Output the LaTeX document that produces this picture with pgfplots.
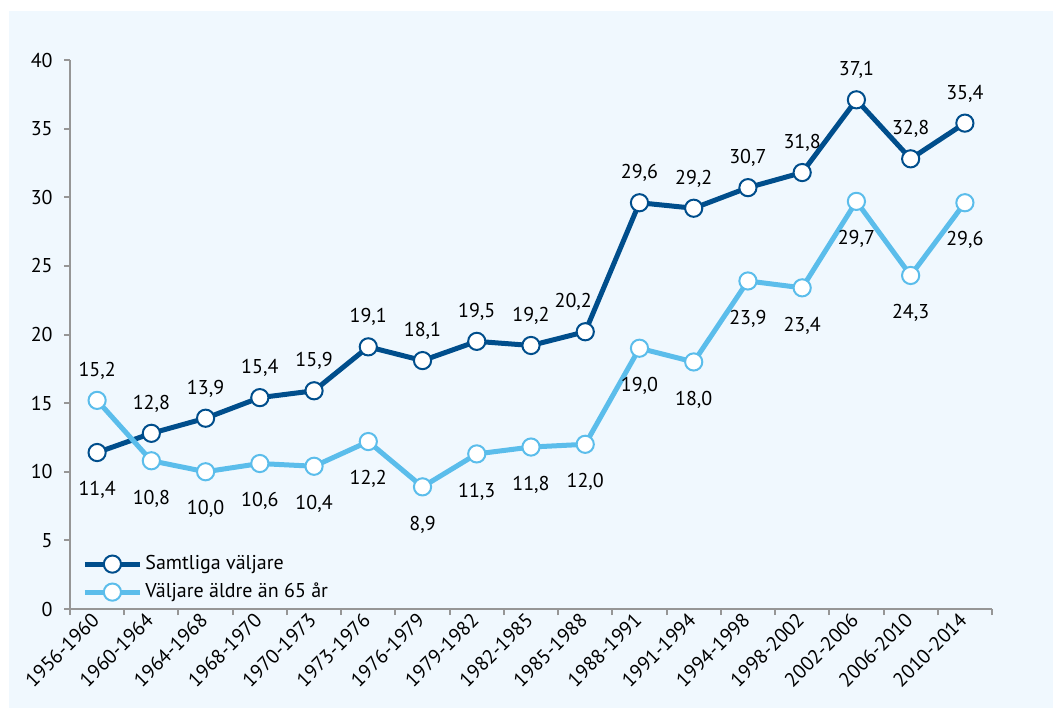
\documentclass[border=0pt]{standalone}
\usepackage{pgfplots}
\pgfplotsset{compat=1.18}
\usepackage{pgfplotstable}
\usepackage{fontspec}
\setmainfont{PT Sans}
\definecolor{darkblue}{RGB}{0,78,140}
\definecolor{lightblue}{RGB}{91,189,235}
\definecolor{bgblue}{RGB}{240,248,254}
\definecolor{axgray}{RGB}{150,150,150}

\pgfplotstableread{
x y lbl
0 11.4 11,4
1 12.8 12,8
2 13.9 13,9
3 15.4 15,4
4 15.9 15,9
5 19.1 19,1
6 18.1 18,1
7 19.5 19,5
8 19.2 19,2
9 20.2 20,2
10 29.6 29,6
11 29.2 29,2
12 30.7 30,7
13 31.8 31,8
14 37.1 37,1
15 32.8 32,8
16 35.4 35,4
}\samtliga

\pgfplotstableread{
x y lbl
0 15.2 15,2
1 10.8 10,8
2 10.0 10,0
3 10.6 10,6
4 10.4 10,4
5 12.2 12,2
6 8.9 8,9
7 11.3 11,3
8 11.8 11,8
9 12.0 12,0
10 19.0 19,0
11 18.0 18,0
12 23.9 23,9
13 23.4 23,4
14 29.7 29,7
15 24.3 24,3
16 29.6 29,6
}\aldre

\pgfplotsset{
  lbls/.style={draw=none, mark=none, forget plot,
    nodes near coords,
    point meta=explicit symbolic,
    every node near coord/.append style={inner sep=0pt, text=black, font=\fontsize{10bp}{12bp}\selectfont}},
  lblup/.style={lbls, every node near coord/.append style={anchor=south, outer sep=10.5bp}},
  lbldown/.style={lbls, every node near coord/.append style={anchor=north, outer sep=14.5bp}},
}

\begin{document}
\begin{tikzpicture}
\useasboundingbox (-35bp,-49.5bp) rectangle (491.5bp,304.5bp);
\fill[bgblue] (-30.5bp,-49.5bp) rectangle (491.5bp,299bp);
\begin{axis}[
  at={(0,0)}, anchor=south west,
  scale only axis,
  width=461bp, height=274.5bp,
  font=\fontsize{10bp}{12bp}\selectfont,
  xmin=-0.5, xmax=16.5, ymin=0, ymax=40,
  axis x line=bottom, axis y line=left,
  axis line style={axgray, line width=1bp, -},
  xtick={-0.5,0.5,...,16.5},
  x tick label as interval,
  xticklabels={1956-1960,1960-1964,1964-1968,1968-1970,1970-1973,1973-1976,1976-1979,1979-1982,1982-1985,1985-1988,1988-1991,1991-1994,1994-1998,1998-2002,2002-2006,2006-2010,2010-2014},
  ytick={0,5,...,40},
  tick align=outside,
  major tick length=3bp,
  tick style={axgray, line width=1bp},
  /pgf/number format/assume math mode=true,
  tick label style={font=\fontsize{10bp}{12bp}\selectfont},
  xticklabel style={rotate=45, anchor=east, inner sep=1bp},
  yticklabel style={inner sep=1bp, xshift=-4.5bp},
  clip=false,
  legend style={at={(rel axis cs:0,0)}, anchor=south west, xshift=6bp, yshift=1.5bp, draw=none, fill=none, inner sep=0pt,
    nodes={inner sep=1.5bp, text height=8bp, text depth=2.5bp}, row sep=0.5bp, font=\fontsize{10bp}{12bp}\selectfont},
  legend cell align=left,
  legend image code/.code={\draw[mark repeat=2, mark phase=2, #1] plot coordinates {(0bp,0bp) (13.75bp,0bp) (27.5bp,0bp)};},
]
\addplot[darkblue, line width=2.5bp, mark=*, mark size=4.3bp, mark options={fill=white, draw=darkblue, line width=1bp}]
  table[x=x, y=y] {\samtliga};
\addlegendentry{Samtliga väljare}
\addplot[lightblue, line width=2.5bp, mark=*, mark size=4.3bp, mark options={fill=white, draw=lightblue, line width=1bp}]
  table[x=x, y=y] {\aldre};
\addlegendentry{Väljare äldre än 65 år}
\addplot[lblup, skip coords between index={0}{1}, skip coords between index={9}{10}] table[x=x, y=y, meta=lbl] {\samtliga};
\addplot[lblup, every node near coord/.append style={xshift=-6bp}, skip coords between index={0}{9}, skip coords between index={10}{17}] table[x=x, y=y, meta=lbl] {\samtliga};
\addplot[lbldown, skip coords between index={1}{17}] table[x=x, y=y, meta=lbl] {\samtliga};
\addplot[lblup, skip coords between index={1}{17}] table[x=x, y=y, meta=lbl] {\aldre};
\addplot[lbldown, skip coords between index={0}{1}] table[x=x, y=y, meta=lbl] {\aldre};
\end{axis}
\end{tikzpicture}
\end{document}
